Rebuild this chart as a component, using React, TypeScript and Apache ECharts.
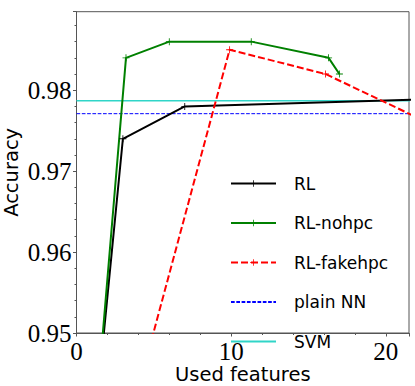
import React, { useEffect, useRef } from "react";
import * as echarts from "echarts";

const rlX = [1, 3, 7, 24];
const rlY = [0.935, 0.974, 0.978, 0.97894];
const nohpcX = [1, 3.2, 6, 11.3, 16.3, 17];
const nohpcY = [0.934, 0.984, 0.986, 0.986, 0.984, 0.982];
const fakeX = [3, 9.9, 16.1, 23];
const fakeY = [0.936, 0.985, 0.982, 0.97574];
const plainNN = 0.9771;
const svm = 0.9787;
const xTicks = [0, 10, 20];
const yTicks = [0.95, 0.96, 0.97, 0.98];

const plus = "path://M-1,-0.12H1V0.12H-1Z M-0.12,-1H0.12V1H-0.12Z";

const zip = (xs: number[], ys: number[]) => xs.map((x, i) => [x, ys[i]]);

export default function App() {
  const ref = useRef<HTMLDivElement>(null);
  useEffect(() => {
    const chart = echarts.init(ref.current!, null, { renderer: "svg" });
    const axisColor = "#555";
    const tickFont = { fontFamily: "Liberation Serif", fontSize: 25, color: "#000" };
    chart.setOption({
      animation: false,
      grid: {
        left: 76.5,
        right: 6,
        top: 11.7,
        bottom: 53,
        containLabel: false,
        outerBoundsMode: "none",
        show: true,
        borderColor: axisColor,
        borderWidth: 1,
      },
      xAxis: {
        type: "value",
        min: 0,
        max: 21.5,
        interval: 10,
        name: "Used features",
        nameLocation: "middle",
        nameGap: 30,
        nameMoveOverlap: false,
        nameTextStyle: { fontFamily: "DejaVu Sans", fontSize: 19.5, color: "#000", lineHeight: 22 },
        axisLine: { show: true, lineStyle: { color: axisColor } },
        axisTick: { show: true, length: 3.5, inside: false, lineStyle: { color: axisColor } },
        minorTick: { show: true, splitNumber: 5, length: 2, lineStyle: { color: axisColor } },
        splitLine: { show: false },
        axisLabel: {
          ...tickFont,
          margin: 6,
          showMaxLabel: false,
          formatter: (v: number) => {
            const t = xTicks.find((k) => Math.abs(k - v) < 1e-6);
            return t === undefined ? "" : String(t);
          },
        },
      },
      yAxis: {
        type: "value",
        min: 0.95,
        max: 0.9897,
        interval: 0.01,
        name: "Accuracy",
        nameLocation: "middle",
        nameGap: 54,
        nameMoveOverlap: false,
        nameTextStyle: { fontFamily: "DejaVu Sans", fontSize: 19.5, color: "#000", lineHeight: 22 },
        axisLine: { show: true, lineStyle: { color: axisColor } },
        axisTick: { show: true, length: 3.5, inside: false, lineStyle: { color: axisColor } },
        minorTick: { show: true, splitNumber: 5, length: 2, lineStyle: { color: axisColor } },
        splitLine: { show: false },
        axisLabel: {
          ...tickFont,
          margin: 5,
          showMaxLabel: false,
          formatter: (v: number) => {
            const t = yTicks.find((k) => Math.abs(k - v) < 1e-6);
            return t === undefined ? "" : t.toFixed(2);
          },
        },
      },
      legend: {
        orient: "vertical",
        left: 230,
        top: 175,
        padding: 0,
        itemWidth: 45,
        itemHeight: 8,
        itemGap: 22.5,
        textStyle: {
          fontFamily: "DejaVu Sans",
          fontSize: 17,
          color: "#000",
          padding: [0, 0, 0, 13],
        },
        data: [
          "RL",
          "RL-nohpc",
          "RL-fakehpc",
          { name: "plain NN", itemStyle: { opacity: 0 } },
          { name: "SVM", itemStyle: { opacity: 0 } },
        ],
      },
      series: [
        {
          name: "plain NN",
          type: "line",
          data: zip([0, 25], [plainNN, plainNN]),
          showSymbol: false,
          symbol: "none",
          lineStyle: { color: "#0000ff", width: 1, type: [3.7, 1.6] },
          itemStyle: { color: "#0000ff" },
        },
        {
          name: "SVM",
          type: "line",
          data: zip([0, 25], [svm, svm]),
          showSymbol: false,
          symbol: "none",
          lineStyle: { color: "#30d5c8", width: 1.5 },
          itemStyle: { color: "#30d5c8" },
        },
        {
          name: "RL",
          type: "line",
          data: zip(rlX, rlY),
          symbol: plus,
          symbolSize: 7,
          lineStyle: { color: "#000", width: 2 },
          itemStyle: { color: "#000" },
        },
        {
          name: "RL-nohpc",
          type: "line",
          data: zip(nohpcX, nohpcY),
          symbol: plus,
          symbolSize: 7,
          lineStyle: { color: "#008000", width: 2 },
          itemStyle: { color: "#008000" },
        },
        {
          name: "RL-fakehpc",
          type: "line",
          data: zip(fakeX, fakeY),
          symbol: plus,
          symbolSize: 7,
          lineStyle: { color: "#ff0000", width: 2, type: [7, 3] },
          itemStyle: { color: "#ff0000" },
        },
      ],
    });
    return () => chart.dispose();
  }, []);
  return (
    <div
      ref={ref}
      style={{ position: "fixed", left: 0, top: 0, width: 415, height: 386, background: "#fff" }}
    />
  );
}
